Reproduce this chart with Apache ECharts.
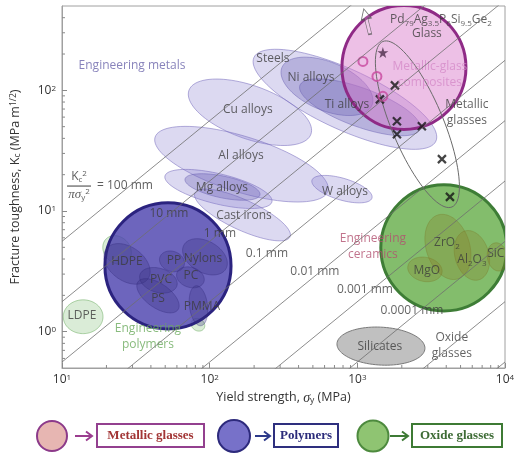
<!DOCTYPE html>
<html>
<head>
<meta charset="utf-8">
<script src="https://cdn.jsdelivr.net/npm/echarts@6/dist/echarts.min.js"></script>
<style>
  html, body { margin: 0; padding: 0; background: #fff; }
  #chart { width: 523px; height: 456px; }
</style>
</head>
<body>
<div id="chart"></div>
<script>
// ---- axes ----
const xRange = [10, 10000];          // yield strength, MPa
const yRange = [0.5, 500];           // fracture toughness, MPa m^1/2
const xDecades = [10, 100, 1000];
const yDecades = [0.1, 1, 10, 100];

// ---- crack-size guidelines: Kc^2 / (pi * sigma_y^2) = c  (c in metres) ----
const crackSizes = [0.1, 0.01, 1e-3, 1e-4, 1e-5, 1e-6, 1e-7, 1e-8, 1e-9];

// ---- property envelopes: [name, sigma1, K1, sigma2, K2, half-width (decades of K)] ----
const metals = [
  ['Steels', 199.5, 187.4, 3404, 37.9, 0.25],
  ['Cu alloys', 72.4, 100, 485, 43.3, 0.22],
  ['Al alloys', 42.7, 40.9, 632, 14.6, 0.23],
  ['Mg alloys', 49.8, 19.5, 264, 11.9, 0.125],
  ['Cast irons', 79.5, 14.1, 350, 6.10, 0.125],
  ['W alloys', 493, 18.0, 1256, 12.8, 0.09]
];
const metalsCore = [
  ['Ni alloys', 308.8, 154.9, 1256, 75.2, 0.2],
  ['Ti alloys', 408.5, 110, 2655, 47.6, 0.16],
  ['Mg alloys', 68.1, 18.4, 219, 13.6, 0.09]
];
const polymersPale = [
  ['LDPE', 10.2, 1.33, 18.95, 1.33, 0.14],
  ['Elastomer blend', 19.9, 5.87, 28.0, 3.86, 0.107],
  ['PMMA tail', 75.9, 1.23, 91.4, 1.06, 0.05]
];
const polymers = [
  ['HDPE', 19.9, 4.85, 38.2, 2.74, 0.14],
  ['PP', 46.1, 4.17, 67.0, 3.51, 0.083],
  ['Nylons', 67.0, 5.24, 128.9, 3.32, 0.13],
  ['PC', 60.0, 3.07, 91.4, 2.59, 0.083],
  ['PVC', 33.7, 2.96, 60.0, 2.40, 0.1],
  ['PS', 32.7, 2.59, 61.0, 1.52, 0.1],
  ['PMMA', 80.8, 2.40, 87.3, 1.12, 0.075]
];
const ceramics = [
  ['ZrO2', 3513, 9.27, 4797, 2.74, 0.18],
  ['Al2O3', 5353, 6.83, 6653, 2.69, 0.14],
  ['SiC', 8544, 5.44, 9238, 3.19, 0.083],
  ['MgO', 2201, 3.51, 3740, 3.07, 0.1]
];
const oxideGlasses = [
  ['Silicates', 728, 0.796, 2869, 0.724, 0.157]
];
const metallicGlassRange = [
  ['Metallic glasses', 1489, 254, 4371, 10.8, 0.215]
];

// ---- highlighted families: [name, sigma, K, radius (decades of sigma)] ----
const families = [
  ['Metallic glasses', 2068, 154.9, 0.42],
  ['Polymers', 52.2, 3.51, 0.427],
  ['Oxide glasses', 3855, 4.95, 0.427]
];

// ---- individual metallic glasses ----
const glassCrosses = [[1797, 110], [1422, 84.2], [1854, 55.4], [2735, 50.4], [1854, 43.3], [3740, 26.9], [4237, 13.1]];
const compositeRings = [[1091, 173.7], [1357, 130.5], [1489, 89.2]];
const pdGlassStar = [[1489, 206]];
const pdGlassArrow = [[1161, 372]];

// ---- annotations: [text, sigma, K] ----
const metalNames = [
  ['Steels', 268, 183.8], ['Ni alloys', 485, 128], ['Ti alloys', 850.5, 76.6],
  ['Cu alloys', 181.5, 69.7], ['Al alloys', 163, 29.0], ['Mg alloys', 121, 15.5],
  ['Cast irons', 170.6, 9.09], ['W alloys', 824, 14.6]
];
const polymerNames = [
  ['HDPE', 27.5, 3.79], ['PP', 57.3, 3.86], ['Nylons', 90.1, 4.01], ['PC', 74.7, 2.90],
  ['PVC', 46.8, 2.69], ['PS', 44.7, 1.87], ['PMMA', 88.7, 1.61], ['LDPE', 13.65, 1.356]
];
const ceramicNames = [
  ['ZrO{sub|2}', 4044, 5.44], ['Al{sub|2}O{sub|3}', 5970, 3.94], ['SiC', 8670, 4.41], ['MgO', 2958, 3.19]
];
const crackNames = [
  ['10 mm', 53.0, 9.44], ['1 mm', 117.4, 6.45], ['0.1 mm', 244.3, 4.41],
  ['0.01 mm', 516, 3.13], ['0.001 mm', 1126, 2.22], ['0.0001 mm', 2344, 1.49]
];
const groupNames = [
  ['Engineering metals', 29.8, 161, 'metal'],
  ['Metallic-glass\ncomposites', 3101, 135.6, 'composite'],
  ['Metallic\nglasses', 5521, 65.8, 'plain'],
  ['Glass', 2958, 296, 'plain'],
  ['Pd{sub|79}Ag{sub|3.5}P{sub|6}Si{sub|9.5}Ge{sub|2}', 3682, 386, 'plain'],
  ['Engineering\nceramics', 1275, 5.04, 'ceramic'],
  ['Engineering\npolymers', 38.2, 0.909, 'polymer'],
  ['Silicates', 1422, 0.751, 'plain'],
  ['Oxide\nglasses', 4365, 0.766, 'plain']
];
const formulaAt = [[13.04, 16.1]];
const formulaValueAt = [[26.7, 16.1]];

// ---------------------------------------------------------------
const FONT = '"Open Sans", "Noto Sans", sans-serif';
const richScripts = {
  sub: { fontSize: 8, verticalAlign: 'bottom', lineHeight: 8, fontFamily: FONT },
  sup: { fontSize: 8, verticalAlign: 'top', lineHeight: 8, fontFamily: FONT }
};

function toItems(rows) {
  return rows.map(r => ({ name: r[0], value: r.slice(1) }));
}

// ellipse drawn between the two ends of its major axis, in log-log space
function ellipseRenderer(style) {
  return function (params, api) {
    const s1 = api.value(0), k1 = api.value(1), s2 = api.value(2), k2 = api.value(3), w = api.value(4);
    const a = api.coord([s1, k1]);
    const b = api.coord([s2, k2]);
    const hw = Math.abs(api.coord([s1, k1 * Math.pow(10, w)])[1] - a[1]);
    const cx = (a[0] + b[0]) / 2, cy = (a[1] + b[1]) / 2;
    const R = Math.hypot(b[0] - a[0], b[1] - a[1]) / 2;
    const th = Math.atan2(b[1] - a[1], b[0] - a[0]);
    const pts = [];
    for (let i = 0; i < 90; i++) {
      const t = i / 90 * Math.PI * 2;
      const u = R * Math.cos(t), v = hw * Math.sin(t);
      pts.push([cx + u * Math.cos(th) - v * Math.sin(th), cy + u * Math.sin(th) + v * Math.cos(th)]);
    }
    return { type: 'polygon', shape: { points: pts, smooth: 0 }, style: style };
  };
}

function envelopeSeries(rows, style) {
  return {
    type: 'custom', silent: true, clip: true,
    encode: { x: [0, 2], y: [1, 3] },
    renderItem: ellipseRenderer(style),
    data: toItems(rows)
  };
}

const familyStyles = [
  { fill: 'rgba(215,115,200,0.45)', stroke: '#8f2a86', lineWidth: 3 },
  { fill: 'rgba(72,62,172,0.80)', stroke: '#2b237f', lineWidth: 3 },
  { fill: 'rgba(92,168,62,0.76)', stroke: '#3e7d36', lineWidth: 3 }
];

const familySeries = {
  type: 'custom', silent: true, clip: true,
  encode: { x: 0, y: 1 },
  renderItem: function (params, api) {
    const c = api.coord([api.value(0), api.value(1)]);
    const r = api.coord([api.value(0) * Math.pow(10, api.value(2)), api.value(1)])[0] - c[0];
    return { type: 'circle', shape: { cx: c[0], cy: c[1], r: r }, style: familyStyles[params.dataIndex] };
  },
  data: toItems(families)
};

// minor log ticks on the left and bottom axes
const minorX = [];
xDecades.forEach(d => { for (let m = 2; m <= 9; m++) minorX.push(d * m); });
const minorY = [];
yDecades.forEach(d => { for (let m = 2; m <= 9; m++) { const v = d * m; if (v > yRange[0] && v < yRange[1]) minorY.push(v); } });

const minorTickSeries = [
  {
    type: 'custom', silent: true, clip: false,
    encode: { x: 0, y: 1 },
    renderItem: function (params, api) {
      const p = api.coord([api.value(0), api.value(1)]);
      return { type: 'line', shape: { x1: p[0], y1: p[1], x2: p[0], y2: p[1] - 3 }, style: { stroke: '#8a8a8a', lineWidth: 1 } };
    },
    data: minorX.map(v => [v, yRange[0]])
  },
  {
    type: 'custom', silent: true, clip: false,
    encode: { x: 0, y: 1 },
    renderItem: function (params, api) {
      const p = api.coord([api.value(0), api.value(1)]);
      return { type: 'line', shape: { x1: p[0], y1: p[1], x2: p[0] + 3, y2: p[1] }, style: { stroke: '#8a8a8a', lineWidth: 1 } };
    },
    data: minorY.map(v => [xRange[0], v])
  }
];

const guideSeries = crackSizes.map(c => {
  const f = Math.sqrt(Math.PI * c);
  return {
    type: 'line', silent: true, clip: true, symbol: 'none',
    lineStyle: { color: '#6e6e6e', width: 0.8 },
    data: [[xRange[0], f * xRange[0]], [xRange[1], f * xRange[1]]]
  };
});

function textSeries(rows, labelStyle) {
  return {
    type: 'scatter', silent: true, symbolSize: 1,
    itemStyle: { color: 'rgba(0,0,0,0)' },
    label: Object.assign({
      show: true, position: 'inside', fontFamily: FONT, fontSize: 12,
      color: '#3c3c3c', lineHeight: 16, align: 'center', verticalAlign: 'middle',
      formatter: p => p.name, rich: richScripts
    }, labelStyle),
    data: rows.map(r => ({ name: r[0], value: [r[1], r[2]] }))
  };
}

const groupColors = { metal: '#6a64aa', composite: '#d58ac8', plain: '#3c3c3c', ceramic: '#b2506f', polymer: '#6aaa5c' };
const groupSeries = {
  type: 'scatter', silent: true, symbolSize: 1,
  itemStyle: { color: 'rgba(0,0,0,0)' },
  data: groupNames.map(g => ({
    name: g[0], value: [g[1], g[2]],
    label: {
      show: true, position: 'inside', fontFamily: FONT, fontSize: 12, lineHeight: 16,
      color: groupColors[g[3]], formatter: p => p.name,
      rich: {
        sub: { fontSize: 8, verticalAlign: 'bottom', lineHeight: 8, fontFamily: FONT, color: groupColors[g[3]] }
      }
    }
  }))
};

const formulaSeries = [
  {
    type: 'scatter', silent: true, symbolSize: 1, itemStyle: { color: 'rgba(0,0,0,0)' },
    label: {
      show: true, position: 'inside', color: '#333', fontSize: 12,
      formatter: () => '{n|K}{s|c}{p|2}\n{bar|}\n{d|πσ}{s|y}{p|2}',
      rich: {
        n: { fontFamily: FONT, fontSize: 12, lineHeight: 14, color: '#333' },
        d: { fontFamily: '"Liberation Serif", serif', fontStyle: 'italic', fontSize: 13, lineHeight: 14, color: '#333' },
        s: { fontSize: 8, verticalAlign: 'bottom', lineHeight: 8, color: '#333', fontFamily: FONT },
        p: { fontSize: 8, verticalAlign: 'top', lineHeight: 8, color: '#333', fontFamily: FONT },
        bar: { width: 24, height: 1.2, lineHeight: 4, backgroundColor: '#333' }
      }
    },
    data: formulaAt
  },
  {
    type: 'scatter', silent: true, symbolSize: 1, itemStyle: { color: 'rgba(0,0,0,0)' },
    label: { show: true, position: 'inside', color: '#333', fontSize: 12, fontFamily: FONT, formatter: () => '= 100 mm' },
    data: formulaValueAt
  }
];

const markerSeries = [
  {
    type: 'scatter', silent: true, symbol: 'path://M0,0L10,10M10,0L0,10', symbolSize: 8,
    itemStyle: { color: 'rgba(0,0,0,0)', borderColor: '#151515', borderWidth: 2.2 },
    data: glassCrosses
  },
  {
    type: 'scatter', silent: true, symbol: 'circle', symbolSize: 9,
    itemStyle: { color: 'rgba(0,0,0,0)', borderColor: '#c8479f', borderWidth: 2 },
    data: compositeRings
  },
  {
    type: 'scatter', silent: true,
    symbol: 'path://M50,0L61,35L98,35L68,57L79,91L50,70L21,91L32,57L2,35L39,35Z', symbolSize: 11,
    itemStyle: { color: '#4a2a48' },
    data: pdGlassStar
  },
  {
    type: 'scatter', silent: true,
    symbol: 'path://M4,28L4,11L0,11L6,0L12,11L8,11L8,28Z', symbolSize: [10, 26], symbolRotate: 14,
    itemStyle: { color: 'rgba(255,255,255,0.2)', borderColor: '#555', borderWidth: 1 },
    data: pdGlassArrow
  }
];

const supFmt = v => '10{sup|' + Math.round(Math.log10(v)) + '}';
const axisRich = {
  sup: { fontSize: 8, verticalAlign: 'top', lineHeight: 8, color: '#333', fontFamily: FONT }
};

const LEGEND_FONT = 'bold 13px "Liberation Serif", serif';
const legendGraphic = [
  { type: 'circle', shape: { cx: 52, cy: 436, r: 15 }, style: { fill: '#e7b6b2', stroke: '#8c3a8a', lineWidth: 2 } },
  { type: 'line', shape: { x1: 75, y1: 436, x2: 92, y2: 436 }, style: { stroke: '#9b3d8f', lineWidth: 2 } },
  { type: 'polyline', shape: { points: [[86, 431.5], [92, 436], [86, 440.5]] }, style: { stroke: '#9b3d8f', lineWidth: 2, fill: null } },
  { type: 'rect', shape: { x: 97, y: 424, width: 107, height: 23 }, style: { fill: '#fff', stroke: '#93408f', lineWidth: 2 } },
  { type: 'text', x: 150.5, y: 436, style: { text: 'Metallic glasses', font: LEGEND_FONT, fill: '#a23535', align: 'center', verticalAlign: 'middle' } },

  { type: 'circle', shape: { cx: 234, cy: 436, r: 16 }, style: { fill: '#7771c9', stroke: '#2d2a7c', lineWidth: 2 } },
  { type: 'line', shape: { x1: 255, y1: 436, x2: 270, y2: 436 }, style: { stroke: '#2d3a8a', lineWidth: 2 } },
  { type: 'polyline', shape: { points: [[264, 431.5], [270, 436], [264, 440.5]] }, style: { stroke: '#2d3a8a', lineWidth: 2, fill: null } },
  { type: 'rect', shape: { x: 274, y: 424, width: 64, height: 23 }, style: { fill: '#fff', stroke: '#2e2f7e', lineWidth: 2 } },
  { type: 'text', x: 306, y: 436, style: { text: 'Polymers', font: LEGEND_FONT, fill: '#2b2b7a', align: 'center', verticalAlign: 'middle' } },

  { type: 'circle', shape: { cx: 373, cy: 436, r: 15.5 }, style: { fill: '#8fc472', stroke: '#4d8a3e', lineWidth: 2 } },
  { type: 'line', shape: { x1: 390, y1: 436, x2: 408, y2: 436 }, style: { stroke: '#3e7a35', lineWidth: 2 } },
  { type: 'polyline', shape: { points: [[402, 431.5], [408, 436], [402, 440.5]] }, style: { stroke: '#3e7a35', lineWidth: 2, fill: null } },
  { type: 'rect', shape: { x: 412, y: 424, width: 90, height: 23 }, style: { fill: '#fff', stroke: '#3d7a34', lineWidth: 2 } },
  { type: 'text', x: 457, y: 436, style: { text: 'Oxide glasses', font: LEGEND_FONT, fill: '#3d6b35', align: 'center', verticalAlign: 'middle' } }
];

const chart = echarts.init(document.getElementById('chart'), null, { renderer: 'canvas' });
chart.setOption({
  animation: false,
  backgroundColor: '#fff',
  textStyle: { fontFamily: FONT },
  grid: { left: 62, top: 6, width: 443, height: 362, show: true, borderColor: '#a0a0a0', borderWidth: 1, outerBoundsMode: 'none' },
  xAxis: {
    type: 'log', logBase: 10, min: xRange[0], max: xRange[1],
    name: 'Yield strength, {i|σ}{sub|y} (MPa)', nameLocation: 'middle', nameGap: 22,
    nameTextStyle: {
      fontSize: 12.5, color: '#333', fontFamily: FONT,
      rich: {
        i: { fontFamily: '"Liberation Serif", serif', fontStyle: 'italic', fontSize: 14, color: '#333' },
        sub: { fontSize: 8.5, verticalAlign: 'bottom', lineHeight: 8, color: '#333', fontFamily: FONT }
      }
    },
    axisLine: { show: true, lineStyle: { color: '#a0a0a0', width: 1 } },
    axisTick: { show: true, inside: true, length: 5, lineStyle: { color: '#8a8a8a' } },
    splitLine: { show: false },
    axisLabel: { formatter: supFmt, margin: 6, fontSize: 12, color: '#333', rich: axisRich }
  },
  yAxis: {
    type: 'log', logBase: 10, min: yRange[0], max: yRange[1],
    name: 'Fracture toughness, K{sub|c} (MPa m{sup|1/2})', nameLocation: 'middle', nameGap: 40,
    nameTextStyle: {
      fontSize: 12.5, color: '#333', fontFamily: FONT,
      rich: {
        sub: { fontSize: 8.5, verticalAlign: 'bottom', lineHeight: 8, color: '#333', fontFamily: FONT },
        sup: { fontSize: 8.5, verticalAlign: 'top', lineHeight: 8, color: '#333', fontFamily: FONT }
      }
    },
    axisLine: { show: true, lineStyle: { color: '#a0a0a0', width: 1 } },
    axisTick: { show: true, inside: true, length: 5, lineStyle: { color: '#8a8a8a' } },
    splitLine: { show: false },
    axisLabel: { formatter: supFmt, margin: 6, fontSize: 12, color: '#333', rich: axisRich, showMinLabel: false, showMaxLabel: false }
  },
  graphic: legendGraphic,
  series: [
    envelopeSeries(metals, { fill: 'rgba(140,128,210,0.30)', stroke: 'rgba(120,110,190,0.55)', lineWidth: 1 }),
    envelopeSeries(metalsCore, { fill: 'rgba(100,90,175,0.30)', stroke: 'rgba(100,90,175,0.45)', lineWidth: 1 }),
    envelopeSeries(polymersPale, { fill: 'rgba(150,200,140,0.35)', stroke: 'rgba(120,180,110,0.6)', lineWidth: 1 }),
    familySeries,
    envelopeSeries(polymers, { fill: 'rgba(55,45,125,0.28)', stroke: 'rgba(50,40,120,0.35)', lineWidth: 1 }),
    envelopeSeries(ceramics, { fill: 'rgba(135,125,40,0.30)', stroke: 'rgba(120,120,40,0.35)', lineWidth: 1 }),
    envelopeSeries(oxideGlasses, { fill: 'rgba(140,140,140,0.55)', stroke: '#7a7a7a', lineWidth: 1 }),
    envelopeSeries(metallicGlassRange, { fill: 'none', stroke: '#6a6a6a', lineWidth: 1 })
  ]
    .concat(guideSeries)
    .concat(minorTickSeries)
    .concat(markerSeries)
    .concat([
      textSeries(metalNames, {}),
      textSeries(polymerNames, {}),
      textSeries(ceramicNames, {}),
      textSeries(crackNames, {}),
      groupSeries
    ])
    .concat(formulaSeries)
});
</script>
</body>
</html>
